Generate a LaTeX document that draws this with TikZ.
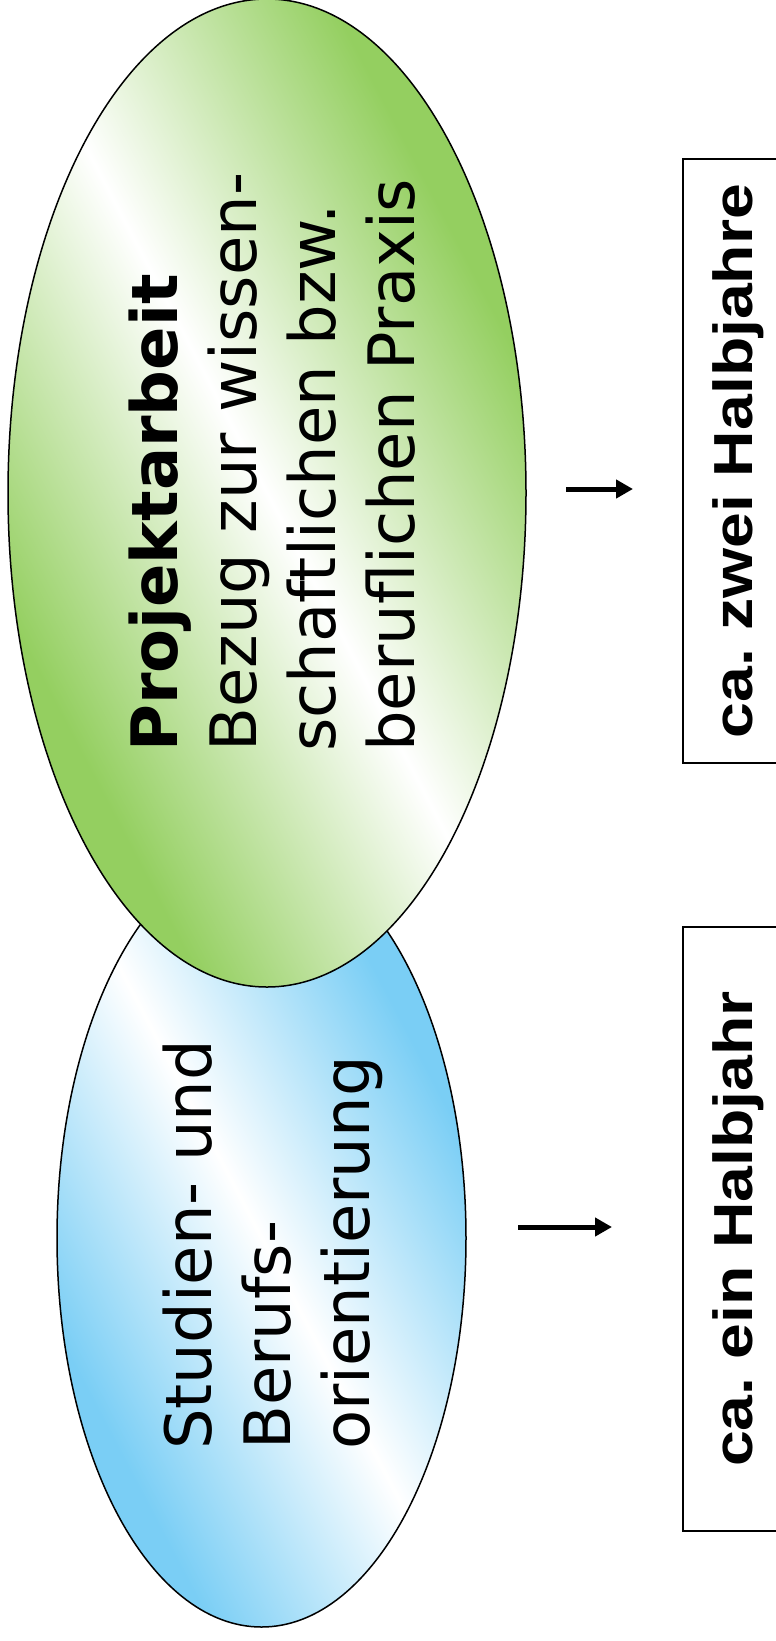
\documentclass[tikz,border=0pt]{standalone}
\usepackage{fontspec}
\setmainfont{DejaVu Sans}
\newfontfamily\boxfont[FakeStretch=1.17]{Liberation Sans}
\usetikzlibrary{shapes.geometric,arrows.meta}
\frenchspacing

\definecolor{projgreen}{RGB}{148,207,96}
\definecolor{orientblue}{RGB}{122,206,245}
\pgfdeclareverticalshading{greenband}{100bp}{color(0bp)=(projgreen); color(30bp)=(projgreen); color(50bp)=(white); color(70bp)=(projgreen); color(100bp)=(projgreen)}
\pgfdeclareverticalshading{blueband}{100bp}{color(0bp)=(orientblue); color(30bp)=(orientblue); color(50bp)=(white); color(70bp)=(orientblue); color(100bp)=(orientblue)}

\tikzset{
  blob/.style={ellipse, draw, line width=1.5pt, inner sep=0pt},
  blobtext/.style={rotate=90, align=left, anchor=north west, inner sep=0pt, font=\fontsize{64}{79}\selectfont},
  zeitbox/.style={draw, line width=1.5pt, rotate=90, inner sep=0pt, minimum width=604pt, minimum height=110pt, font=\boxfont\bfseries\fontsize{55}{60}\selectfont},
  zeitpfeil/.style={line width=5pt, -{Triangle[length=17pt,width=18pt]}}
}

\begin{document}
\begin{tikzpicture}[x=1pt,y=-1pt]
\clip (0,0) rectangle (776,1641);

% Studien- und Berufsorientierung (lower ellipse, behind)
\begin{scope}
  \clip (261.5,1238) ellipse [x radius=204.5, y radius=389];
  \begin{scope}[transform canvas={shift={(261.5,1238)}, xscale=20.45, yscale=38.9, rotate=-45}]
    \shade[shading=blueband] (-12,-11) rectangle (12,11);
  \end{scope}
\end{scope}
\node[blob, minimum width=409pt, minimum height=778pt] (orient) at (261.5,1238) {};

% Projektarbeit (upper ellipse)
\begin{scope}
  \clip (267,493) ellipse [x radius=259, y radius=494];
  \begin{scope}[transform canvas={shift={(267,493)}, xscale=25.9, yscale=49.4, rotate=-45}]
    \shade[shading=greenband] (-12,-11) rectangle (12,11);
  \end{scope}
\end{scope}
\node[blob, minimum width=518pt, minimum height=988pt] (proj) at (267,493) {};

% Texts in the ellipses
\node[blobtext] (projtext) at (129,752) {\textbf{Projektarbeit}\\Bezug zur wissen-\\schaftlichen bzw.\\beruflichen Praxis};
\node[blobtext] (orienttext) at (163,1450) {Studien- und\\Berufs-\\orientierung};

% Duration boxes
\node[zeitbox] (zwei) at (738,461) {ca. zwei Halbjahre};
\node[zeitbox] (ein) at (738,1229) {ca. ein Halbjahr};

% Arrows
\coordinate (p1a) at (566,489);
\coordinate (p1b) at (633,489);
\coordinate (p2a) at (518,1227);
\coordinate (p2b) at (612,1227);
\draw[zeitpfeil] (p1a) -- (p1b);
\draw[zeitpfeil] (p2a) -- (p2b);
\end{tikzpicture}
\end{document}
